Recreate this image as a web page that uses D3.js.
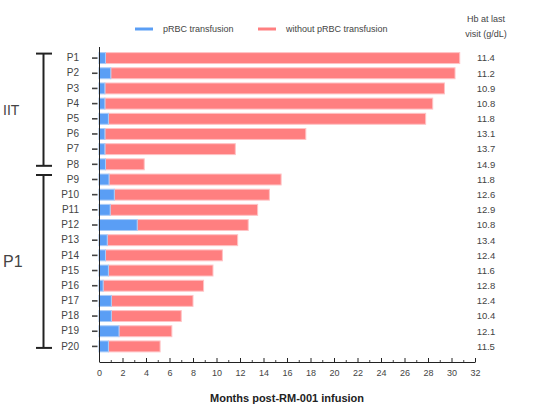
<!DOCTYPE html>
<html><head><meta charset="utf-8">
<script src="https://cdn.jsdelivr.net/npm/d3@7"></script>
<style>body{margin:0;background:#fff}svg{display:block;font-family:"Liberation Sans",Arial,sans-serif}</style>
</head><body><svg id="c" width="548" height="417"></svg>
<script>
const patients = ["P1","P2","P3","P4","P5","P6","P7","P8","P9","P10","P11","P12","P13","P14","P15","P16","P17","P18","P19","P20"];
const transfusionMonths = [0.55,1.0,0.5,0.5,0.8,0.5,0.5,0.55,0.85,1.3,0.95,3.25,0.7,0.55,0.8,0.35,1.05,1.05,1.7,0.8];
const totalMonths = [30.7,30.3,29.4,28.4,27.8,17.6,11.6,3.85,15.5,14.5,13.5,12.7,11.8,10.5,9.7,8.9,8.0,7.0,6.2,5.2];
const hbLastVisit = ["11.4","11.2","10.9","10.8","11.8","13.1","13.7","14.9","11.8","12.6","12.9","10.8","13.4","12.4","11.6","12.8","12.4","10.4","12.1","11.5"];
const groups = [{name:"IIT", first:"P1", last:"P8"},{name:"P1", first:"P9", last:"P20"}];
const majorTicks = [0,2,4,6,8,10,12,14,16,18,20,22,24,26,28,30,32];
const minorTicks = [1,3,5,7,9,11,13,15,17,19,21,23,25,27,29,31];

const svg = d3.select("#c");
const x = d3.scaleLinear().domain([0,32]).range([99,475]);
const y = d3.scaleBand().domain(patients).range([50.5,354]).paddingInner(0.28).paddingOuter(0.14);
const blue = "#5a9ef5", red = "#ff7f80";

// bars
const rows = svg.append("g").selectAll("g").data(patients).join("g");
rows.append("rect")
  .attr("x", (d,i)=>x(transfusionMonths[i]))
  .attr("y", d=>y(d))
  .attr("width", (d,i)=>x(totalMonths[i])-x(transfusionMonths[i]))
  .attr("height", y.bandwidth())
  .attr("fill", red).attr("stroke","#ffc2c4").attr("stroke-width",1);
rows.append("rect")
  .attr("x", x(0))
  .attr("y", d=>y(d))
  .attr("width", (d,i)=>x(transfusionMonths[i])-x(0))
  .attr("height", y.bandwidth())
  .attr("fill", blue).attr("stroke","#a9cbf7").attr("stroke-width",1);

// y axis
svg.append("line").attr("x1",99.5).attr("x2",99.5).attr("y1",47).attr("y2",362).attr("stroke","#222").attr("stroke-width",1);
const ya = svg.append("g").attr("transform","translate(99,0)")
  .call(d3.axisLeft(y).tickSize(0).tickPadding(20));
ya.select(".domain").remove();
ya.selectAll("text").attr("font-size",10).attr("fill","#444").attr("font-family","Liberation Sans, Arial, sans-serif");
svg.append("g").selectAll("line").data(patients).join("line")
  .attr("x1",92).attr("x2",97.5)
  .attr("y1",d=>y(d)+y.bandwidth()/2).attr("y2",d=>y(d)+y.bandwidth()/2)
  .attr("stroke","#444").attr("stroke-width",1.6);

// x axis
const xa = svg.append("g").attr("transform","translate(0,362)")
  .call(d3.axisBottom(x).tickValues(majorTicks).tickSizeInner(-4).tickSizeOuter(0).tickPadding(8).tickFormat(d3.format("d")));
xa.select(".domain").attr("stroke","#222");
xa.selectAll(".tick line").attr("stroke","#222");
xa.selectAll("text").attr("font-size",9).attr("fill","#444").attr("font-family","Liberation Sans, Arial, sans-serif");
const xm = svg.append("g").attr("transform","translate(0,362)")
  .call(d3.axisBottom(x).tickValues(minorTicks).tickSizeInner(-2).tickSizeOuter(0).tickFormat(""));
xm.select(".domain").remove();
xm.selectAll(".tick line").attr("stroke","#444");

svg.append("text").attr("x",287).attr("y",402).attr("text-anchor","middle")
  .attr("font-size",11).attr("font-weight","bold").attr("fill","#222").text("Months post-RM-001 infusion");

// Hb values
svg.append("text").attr("x",486).attr("y",22).attr("text-anchor","middle").attr("font-size",9).attr("fill","#444").text("Hb at last");
svg.append("text").attr("x",486).attr("y",37).attr("text-anchor","middle").attr("font-size",9).attr("fill","#444").text("visit (g/dL)");
svg.append("g").selectAll("text").data(patients).join("text")
  .attr("x",486).attr("y",d=>y(d)+y.bandwidth()/2).attr("dy","0.35em")
  .attr("text-anchor","middle").attr("font-size",9.5).attr("fill","#444")
  .text((d,i)=>hbLastVisit[i]);

// group brackets
const gb = svg.append("g").selectAll("g").data(groups).join("g");
const top_ = g => y(g.first)+y.bandwidth()/2-4.5;
const bot_ = g => y(g.last)+y.bandwidth()/2+1.5;
gb.append("line").attr("x1",43.5).attr("x2",43.5).attr("y1",top_).attr("y2",bot_).attr("stroke","#222").attr("stroke-width",2);
gb.append("line").attr("x1",36).attr("x2",52).attr("y1",top_).attr("y2",top_).attr("stroke","#222").attr("stroke-width",2);
gb.append("line").attr("x1",36).attr("x2",52).attr("y1",bot_).attr("y2",bot_).attr("stroke","#222").attr("stroke-width",2);
gb.append("text").attr("x",3).attr("y",g=>(top_(g)+bot_(g))/2).attr("dy","0.35em")
  .attr("font-size",(g,i)=>i===0?14:16).attr("fill","#444").text(g=>g.name);

// legend
const legend = [{label:"pRBC transfusion", color:blue, x:135},{label:"without pRBC transfusion", color:red, x:258}];
const lg = svg.append("g").selectAll("g").data(legend).join("g");
lg.append("line").attr("x1",d=>d.x).attr("x2",d=>d.x+18).attr("y1",29).attr("y2",29).attr("stroke",d=>d.color).attr("stroke-width",3);
lg.append("text").attr("x",d=>d.x+28).attr("y",29).attr("dy","0.35em").attr("font-size",9).attr("fill","#444").text(d=>d.label);
</script></body></html>
